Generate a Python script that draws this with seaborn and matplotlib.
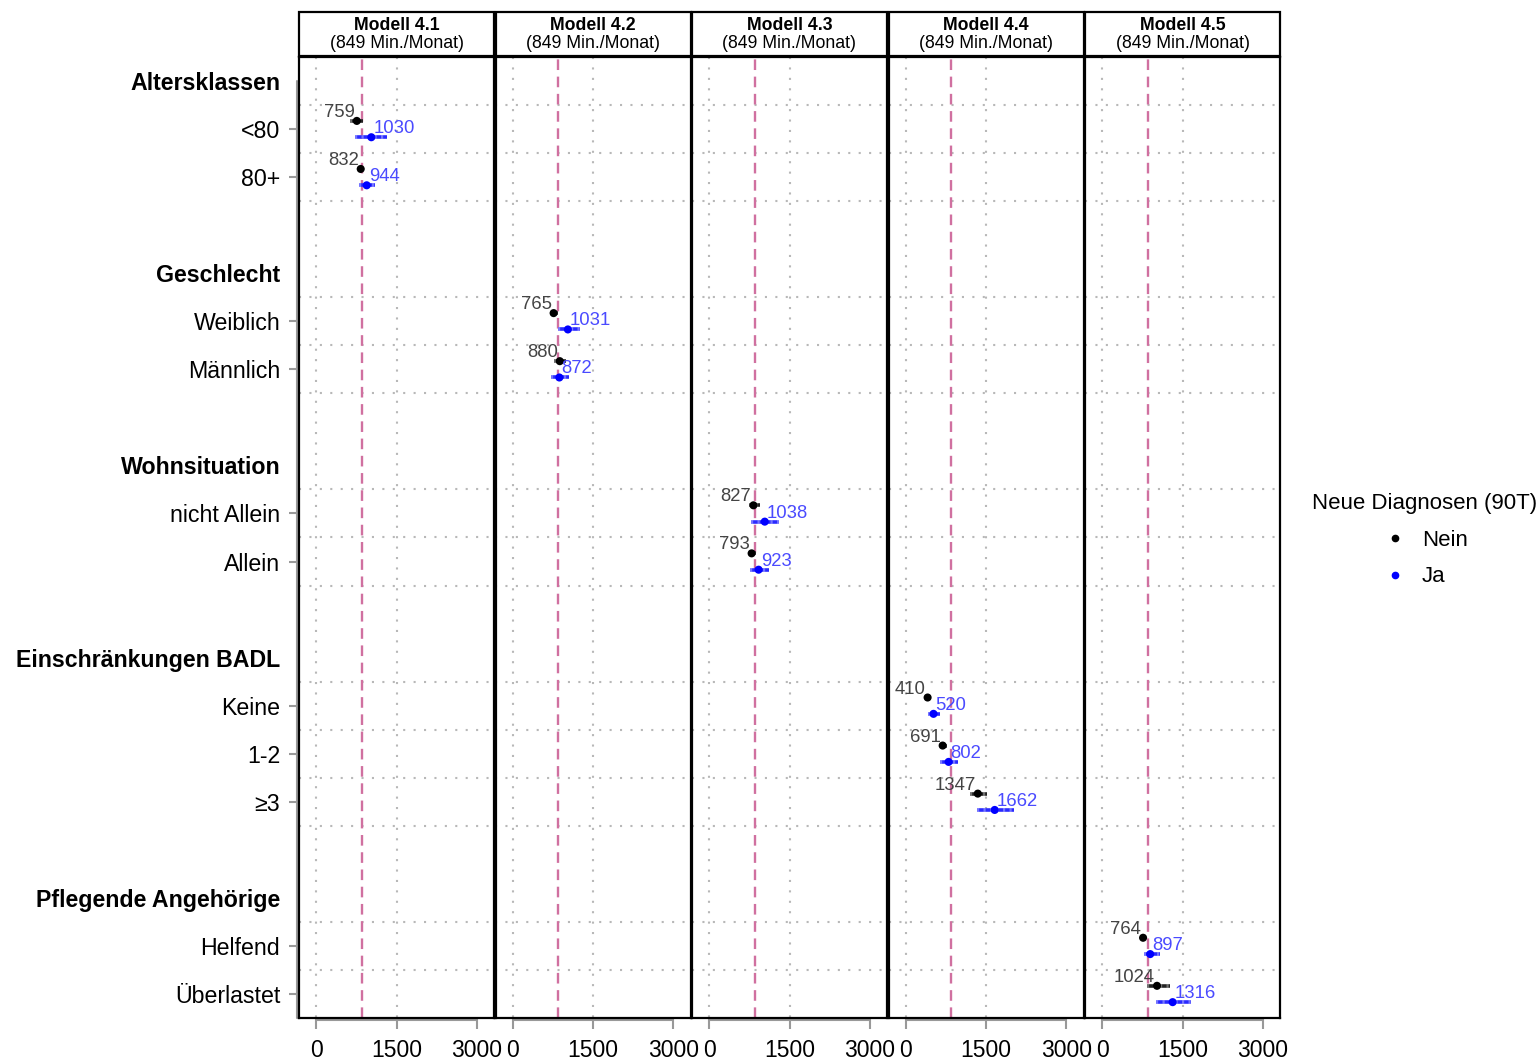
import matplotlib
matplotlib.use("Agg")
import matplotlib.pyplot as plt
import matplotlib.transforms as mtransforms
from matplotlib.patches import Rectangle
from matplotlib.lines import Line2D
import numpy as np
import pandas as pd
import seaborn as sns

sns.set_style("white")
plt.rcParams['font.family'] = ['Liberation Sans', 'DejaVu Sans']
plt.rcParams['text.color'] = 'black'
plt.rcParams['xtick.labelcolor'] = 'black'
plt.rcParams['ytick.labelcolor'] = 'black'

# data
models = ["Modell 4.1", "Modell 4.2", "Modell 4.3", "Modell 4.4", "Modell 4.5"]
subtitle = "(849 Min./Monat)"
reference = 849
groups = ["Altersklassen", "Geschlecht", "Wohnsituation", "Einschränkungen BADL", "Pflegende Angehörige"]
group_levels = [["<80", "80+"],
                ["Weiblich", "Männlich"],
                ["nicht Allein", "Allein"],
                ["Keine", "1-2", "≥3"],
                ["Helfend", "Überlastet"]]

nein_est = [759, 832, 765, 880, 827, 793, 410, 691, 1347, 764, 1024]
nein_lo = [640, 775, 713, 770, 737, 737, 370, 638, 1200, 710, 838]
nein_hi = [880, 900, 844, 1000, 957, 881, 450, 763, 1513, 820, 1263]
ja_est = [1030, 944, 1031, 872, 1038, 923, 520, 802, 1662, 897, 1316]
ja_lo = [730, 795, 850, 725, 782, 769, 410, 638, 1325, 775, 1013]
ja_hi = [1330, 1105, 1250, 1056, 1313, 1113, 640, 970, 2025, 1088, 1663]

# row layout: header, levels, blank line
header_rows, header_names = [], []
level_rows, level_names, level_model = [], [], []
grid_rows = []
r = 0
for gi, (g, levs) in enumerate(zip(groups, group_levels)):
    header_rows.append(r)
    header_names.append(g)
    grid_rows.append(r + 0.5)
    r += 1
    for lv in levs:
        level_rows.append(r)
        level_names.append(lv)
        level_model.append(models[gi])
        grid_rows.append(r + 0.5)
        r += 1
    r += 1
grid_rows = grid_rows[:-1]

recs = []
for i in range(len(level_names)):
    recs.append(dict(model=level_model[i], level=level_names[i], diag="Nein",
                     ypos=level_rows[i] - 0.17, est=nein_est[i], lo=nein_lo[i], hi=nein_hi[i]))
    recs.append(dict(model=level_model[i], level=level_names[i], diag="Ja",
                     ypos=level_rows[i] + 0.17, est=ja_est[i], lo=ja_lo[i], hi=ja_hi[i]))
df = pd.DataFrame(recs)

point_col = {"Nein": "black", "Ja": "#0000ff"}
bar_col = {"Nein": "#222222", "Ja": "#2a2aff"}
text_col = {"Nein": "#444444", "Ja": "#4a4aff"}

fig, axes = plt.subplots(1, 5, figsize=(15.39, 10.61), dpi=100, sharex=True, sharey=True)
fig.subplots_adjust(left=299/1539, right=1280/1539, top=1-57/1061, bottom=1-1018/1061, wspace=1.5/195)

for i, ax in enumerate(axes):
    sub = df[df["model"] == models[i]]
    # grid
    ax.hlines(grid_rows, -320, 3320, colors="#b8b8b8", linestyles=(0, (1, 4)), linewidth=1.5, zorder=0)
    ax.vlines([0, 1500], -0.5, 19.5, colors="#b8b8b8", linestyles=(0, (1, 4)), linewidth=1.5, zorder=0)
    ax.axvline(reference, color="#d070a0", linestyle=(0, (4.5, 2.8)), linewidth=1.7, zorder=1)
    for d in ["Nein", "Ja"]:
        s = sub[sub["diag"] == d]
        ax.hlines(s["ypos"], s["lo"], s["hi"], colors=bar_col[d], linewidth=2.6, zorder=2)
        ax.hlines(s["ypos"], s["lo"], s["hi"], colors="white", alpha=0.35,
                  linestyles=(0, (0.6, 1.2)), linewidth=2.6, zorder=2)
    sns.scatterplot(data=sub, x="est", y="ypos", hue="diag", palette=point_col,
                    hue_order=["Nein", "Ja"], s=34, linewidth=0, legend=False, ax=ax, zorder=4)
    for _, row in sub.iterrows():
        if row["diag"] == "Nein":
            tr = mtransforms.offset_copy(ax.transData, fig=fig, x=-1.5, y=0, units="points")
            ax.text(row["est"], row["ypos"], str(row["est"]), ha="right", va="bottom",
                    color=text_col["Nein"], fontsize=13.3, transform=tr, zorder=5)
        else:
            tr = mtransforms.offset_copy(ax.transData, fig=fig, x=1.5, y=0, units="points")
            ax.text(row["est"], row["ypos"], str(row["est"]), ha="left", va="bottom",
                    color=text_col["Ja"], fontsize=13.3, transform=tr, zorder=5)

    ax.set_xlim(-320, 3320)
    ax.set_ylim(19.5, -0.5)
    ax.set_xticks([0, 1500, 3000])
    ax.set_xlabel("")
    ax.set_ylabel("")
    ax.tick_params(axis="x", bottom=True, length=8, width=1.5, color="#999999", pad=7, labelsize=16.5)
    for sp in ax.spines.values():
        sp.set_visible(True)
        sp.set_color("black")
        sp.set_linewidth(1.6)
    # capped grey x axis line
    ax.plot([0, 3000], [-0.002, -0.002], transform=ax.get_xaxis_transform(),
            color="#999999", lw=1.5, clip_on=False, zorder=0)
    # strip
    ax.add_patch(Rectangle((0, 1.001), 1, 0.0458, transform=ax.transAxes, clip_on=False,
                           facecolor="white", edgecolor="black", linewidth=1.6))
    ax.text(0.5, 1.0325, models[i], transform=ax.transAxes, ha="center", va="center",
            fontsize=12.7, fontweight="bold")
    ax.text(0.5, 1.0138, subtitle, transform=ax.transAxes, ha="center", va="center", fontsize=12.7)
    if i > 0:
        ax.tick_params(axis="y", which="both", left=False)

ax0 = axes[0]
ax0.set_yticks(level_rows, labels=level_names)
ax0.set_yticks(header_rows, labels=header_names, minor=True)
ax0.tick_params(axis="y", which="major", left=True, length=7.5, width=1.5, color="#999999", pad=6, labelsize=16.7)
ax0.tick_params(axis="y", which="minor", left=True, length=0, pad=13.5, labelsize=16.7)
for lbl in ax0.get_yticklabels(minor=True):
    lbl.set_fontweight("bold")
ax0.plot([-0.01, -0.01], [0, 19.5], transform=ax0.get_yaxis_transform(),
         color="#999999", lw=1.5, clip_on=False, zorder=0)

handles = [Line2D([], [], marker="o", ls="", color=point_col[d], markersize=4.5) for d in ["Nein", "Ja"]]
fig.legend(handles, ["Nein", "Ja"], title="Neue Diagnosen (90T)", loc="center left",
           bbox_to_anchor=(1312/1539, 1-540/1061), frameon=False, fontsize=16, title_fontsize=16,
           alignment="center", handlelength=1.2, handletextpad=0.6, labelspacing=0.72,
           borderpad=0, borderaxespad=0)

plt.savefig("out.png", dpi=100)
